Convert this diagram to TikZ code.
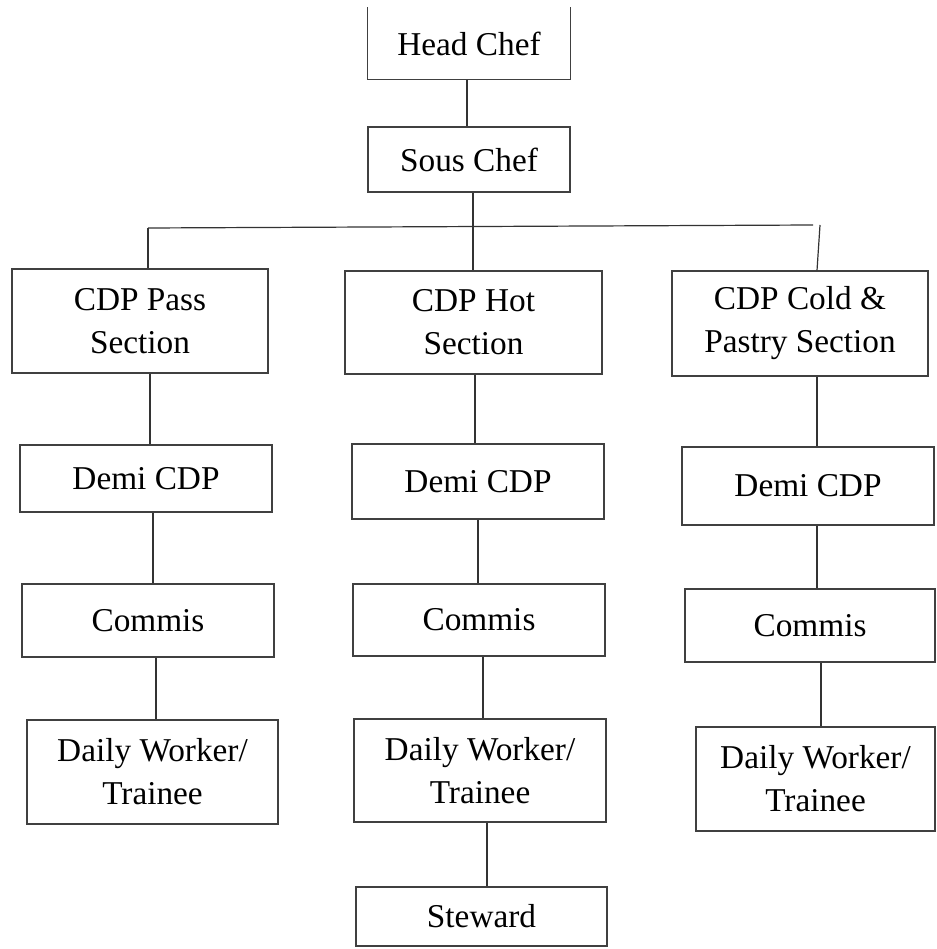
\documentclass[tikz,border=0pt]{standalone}
\usepackage{fontspec}
\setmainfont{Liberation Serif}
\begin{document}
\begin{tikzpicture}[x=1pt,y=1pt,
  box/.style={draw=black!75, line width=1.3pt, fill=white, inner sep=0pt, align=center,
    font=\fontsize{33.3}{43}\selectfont},
  opentop/.style={box, draw=none},
  link/.style={draw=black!80, line width=1.2pt}]
\useasboundingbox (0,0) rectangle (936,-949);
\fill[white] (0,0) rectangle (936,-949);

\node[opentop, minimum width=202, minimum height=71] (head) at (469,-43.5) {Head Chef};
\draw[draw=black!75, line width=1.3pt] (head.north west) -- (head.south west) -- (head.south east) -- (head.north east);
\node[box, minimum width=202, minimum height=65] (sous) at (469,-159.5) {Sous Chef};

\node[box, minimum width=256, minimum height=104] (pass) at (140,-321) {CDP Pass\\Section};
\node[box, minimum width=257, minimum height=103] (hot) at (473.5,-322.5) {CDP Hot\\Section};
\node[box, minimum width=256, minimum height=105] (cold) at (800,-323.5) {CDP Cold \&\\Pastry Section};

\node[box, minimum width=252, minimum height=67] (demiL) at (146,-478.5) {Demi CDP};
\node[box, minimum width=252, minimum height=75] (demiM) at (478,-481.5) {Demi CDP};
\node[box, minimum width=252, minimum height=78] (demiR) at (808,-486) {Demi CDP};

\node[box, minimum width=252, minimum height=73] (commL) at (148,-620.5) {Commis};
\node[box, minimum width=252, minimum height=72] (commM) at (479,-620) {Commis};
\node[box, minimum width=250, minimum height=73] (commR) at (810,-625.5) {Commis};

\node[box, minimum width=251, minimum height=104] (dailyL) at (152.5,-772) {Daily Worker/\\Trainee};
\node[box, minimum width=252, minimum height=103] (dailyM) at (480,-770.5) {Daily Worker/\\Trainee};
\node[box, minimum width=239, minimum height=104] (dailyR) at (815.5,-779) {Daily Worker/\\Trainee};

\node[box, minimum width=251, minimum height=59] (stew) at (481.5,-916.5) {Steward};

% connectors
\draw[link] (467,0 |- head.south) -- (467,0 |- sous.north);
\draw[link] (473,0 |- sous.south) -- (473,0 |- hot.north);
\coordinate (barL) at (148,-228);
\coordinate (barR) at (813,-225);
\coordinate (dropR) at (820,-225);
\draw[link] (barL) -- (barR);
\draw[link] (barL) -- (148,0 |- pass.north);
\draw[link] (dropR) -- (817,0 |- cold.north);

\draw[link] (150,0 |- pass.south) -- (150,0 |- demiL.north);
\draw[link] (153,0 |- demiL.south) -- (153,0 |- commL.north);
\draw[link] (156,0 |- commL.south) -- (156,0 |- dailyL.north);

\draw[link] (475,0 |- hot.south) -- (475,0 |- demiM.north);
\draw[link] (478,0 |- demiM.south) -- (478,0 |- commM.north);
\draw[link] (483,0 |- commM.south) -- (483,0 |- dailyM.north);
\draw[link] (487,0 |- dailyM.south) -- (487,0 |- stew.north);

\draw[link] (817,0 |- cold.south) -- (817,0 |- demiR.north);
\draw[link] (817,0 |- demiR.south) -- (817,0 |- commR.north);
\draw[link] (821,0 |- commR.south) -- (821,0 |- dailyR.north);
\end{tikzpicture}
\end{document}
